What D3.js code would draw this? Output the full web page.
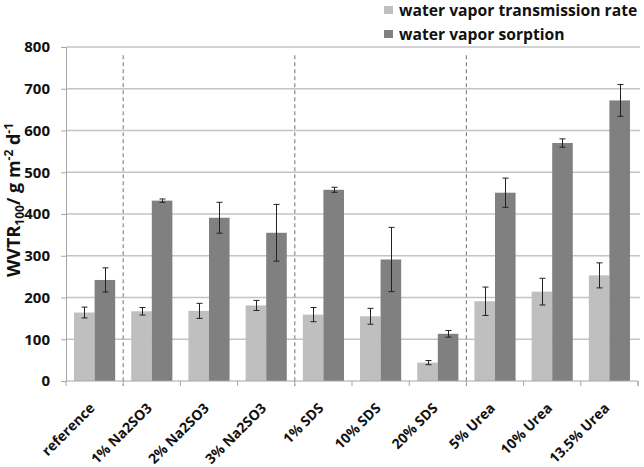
<!DOCTYPE html>
<html>
<head>
<meta charset="utf-8">
<script src="https://cdn.jsdelivr.net/npm/d3@7"></script>
<style>
  html, body { margin: 0; padding: 0; background: #fff; }
  svg { display: block; }
  text { font-family: "Open Sans", sans-serif; font-weight: bold; fill: #111; }
</style>
</head>
<body>
<div id="chart"></div>
<script>
const categories = ["reference", "1% Na2SO3", "2% Na2SO3", "3% Na2SO3", "1% SDS", "10% SDS", "20% SDS", "5% Urea", "10% Urea", "13.5% Urea"];
const seriesNames = ["water vapor transmission rate", "water vapor sorption"];
const transmission = [164, 167, 168, 181, 159, 155, 44, 191, 214, 253];
const transmissionErr = [13, 9, 18, 12, 17, 19, 5, 34, 32, 30];
const sorption = [242, 432, 391, 355, 458, 291, 113, 451, 570, 672];
const sorptionErr = [29, 4, 37, 68, 6, 77, 8, 35, 10, 38];
const yTicks = [0, 100, 200, 300, 400, 500, 600, 700, 800];
const separatorsAfter = [0, 3, 6];
const colors = ["#bfbfbf", "#808080"];

const W = 644, H = 467;
const margin = { left: 66, right: 6, top: 47, bottom: 86 };
const svg = d3.select("#chart").append("svg").attr("width", W).attr("height", H);

const x = d3.scaleBand().domain(categories).range([margin.left, W - margin.right]).paddingInner(0).paddingOuter(0);
const x1 = d3.scaleBand().domain([0, 1]).range([0, x.bandwidth()]).paddingOuter(0.39).paddingInner(0);
const y = d3.scaleLinear().domain([0, 800]).range([H - margin.bottom, margin.top]);

// gridlines
svg.append("g").selectAll("line").data(yTicks.slice(1)).join("line")
  .attr("x1", margin.left).attr("x2", W - margin.right + 2)
  .attr("y1", d => y(d)).attr("y2", d => y(d))
  .attr("stroke", "#c4c4c4").attr("stroke-width", 1.3);

// separators
svg.append("g").selectAll("line").data(separatorsAfter).join("line")
  .attr("x1", d => x(categories[d]) + x.bandwidth()).attr("x2", d => x(categories[d]) + x.bandwidth())
  .attr("y1", y(780)).attr("y2", y(0) + 5)
  .attr("stroke", "#8a8a8a").attr("stroke-width", 1.2).attr("stroke-dasharray", "4,3");

// bars
const data = categories.map((c, i) => [
  { c, s: 0, v: transmission[i], e: transmissionErr[i] },
  { c, s: 1, v: sorption[i], e: sorptionErr[i] }
]).flat();

svg.append("g").selectAll("rect").data(data).join("rect")
  .attr("x", d => x(d.c) + x1(d.s))
  .attr("width", x1.bandwidth())
  .attr("y", d => y(d.v))
  .attr("height", d => y(0) - y(d.v))
  .attr("fill", d => colors[d.s]);

// error bars
const eg = svg.append("g").attr("stroke", "#222").attr("stroke-width", 1);
data.forEach(d => {
  const cx = Math.round(x(d.c) + x1(d.s) + x1.bandwidth() / 2) + 0.5;
  eg.append("line").attr("x1", cx).attr("x2", cx).attr("y1", y(d.v + d.e)).attr("y2", y(d.v - d.e));
  eg.append("line").attr("x1", cx - 3).attr("x2", cx + 3).attr("y1", y(d.v + d.e)).attr("y2", y(d.v + d.e));
  eg.append("line").attr("x1", cx - 3).attr("x2", cx + 3).attr("y1", y(d.v - d.e)).attr("y2", y(d.v - d.e));
});

// y axis
const yAxis = d3.axisLeft(y).tickValues(yTicks).tickSize(5).tickPadding(11);
const gy = svg.append("g").attr("transform", `translate(${margin.left},0)`).call(yAxis);
gy.select(".domain").attr("stroke", "#a6a6a6");
gy.selectAll(".tick line").attr("stroke", "#a6a6a6");
gy.selectAll(".tick text").style("font-size", "15px").style("font-family", "'Open Sans'").style("font-weight", "bold").attr("fill", "#111");

// x axis
const xAxis = d3.axisBottom(x).tickSize(5).tickFormat("");
const gx = svg.append("g").attr("transform", `translate(0,${y(0)})`).call(xAxis);
gx.selectAll(".tick").remove();
gx.select(".domain").attr("stroke", "#a6a6a6").attr("d", `M${margin.left},5V0H${W - margin.right}V5`);
gx.append("g").selectAll("line").data(categories).join("line")
  .attr("x1", d => x(d) + x.bandwidth()).attr("x2", d => x(d) + x.bandwidth())
  .attr("y1", 0).attr("y2", 5).attr("stroke", "#a6a6a6");

// x labels
svg.append("g").selectAll("text").data(categories).join("text")
  .attr("transform", d => `translate(${x(d) + x.bandwidth() / 2 + 1},${y(0) + 28}) rotate(-45)`)
  .attr("text-anchor", "end")
  .style("font-size", "14px")
  .text(d => d);

// y title
const yt = svg.append("text")
  .attr("transform", `translate(20,200) rotate(-90)`)
  .attr("text-anchor", "middle")
  .style("font-size", "18px");
yt.append("tspan").text("WVTR");
yt.append("tspan").attr("dy", 4).style("font-size", "12px").text("100");
yt.append("tspan").attr("dy", -4).text("/ g m");
yt.append("tspan").attr("dy", -7).style("font-size", "12px").text("-2");
yt.append("tspan").attr("dy", 7).text(" d");
yt.append("tspan").attr("dy", -7).style("font-size", "12px").text("-1");

// legend
const lg = svg.append("g");
seriesNames.forEach((n, i) => {
  lg.append("rect").attr("x", 384).attr("y", 6 + i * 24).attr("width", 9).attr("height", 8).attr("fill", colors[i]);
  lg.append("text").attr("x", 399).attr("y", 16 + i * 24).style("font-size", "15.7px").text(n);
});
</script>
</body>
</html>
